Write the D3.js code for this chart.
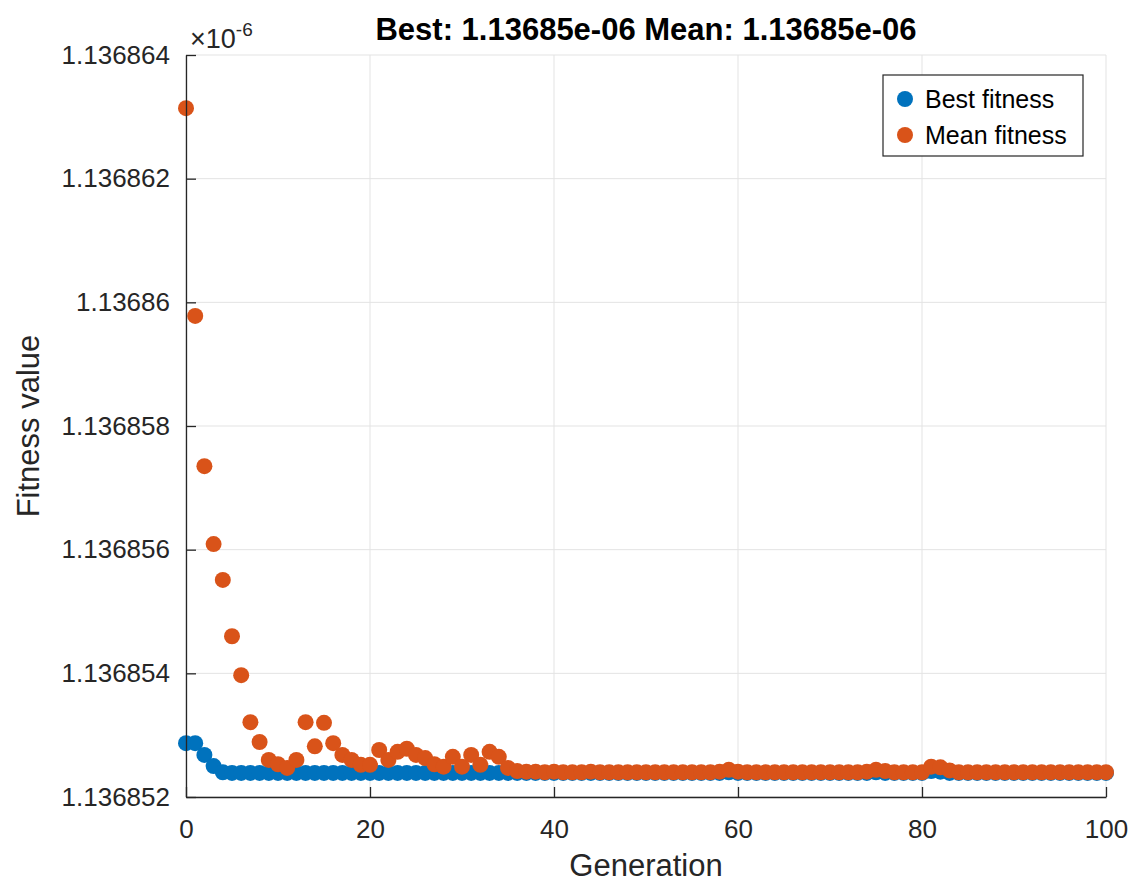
<!DOCTYPE html>
<html>
<head>
<meta charset="utf-8">
<script src="https://cdn.jsdelivr.net/npm/d3@7"></script>
<style>
  body { margin: 0; background: #fff; }
  text { font-family: "Liberation Sans", Arial, sans-serif; fill: #262626; }
</style>
</head>
<body>
<div id="chart"></div>
<script>
(function () {
    // values are in units of 1e-6
    var generations = d3.range(0, 101);

    var bestFitness = [
        1.13685287, 1.13685287, 1.13685268, 1.13685250, 1.13685240, 1.13685239, 1.13685239, 1.13685239, 1.13685239, 1.13685239,
        1.13685239, 1.13685239, 1.13685239, 1.13685239, 1.13685239, 1.13685239, 1.13685239, 1.13685239, 1.13685239, 1.13685239,
        1.13685239, 1.13685239, 1.13685239, 1.13685239, 1.13685239, 1.13685239, 1.13685239, 1.13685239, 1.13685239, 1.13685239,
        1.13685239, 1.13685239, 1.13685239, 1.13685239, 1.13685239, 1.13685239, 1.13685239, 1.13685239, 1.13685239, 1.13685239,
        1.13685239, 1.13685239, 1.13685239, 1.13685239, 1.13685239, 1.13685239, 1.13685239, 1.13685239, 1.13685239, 1.13685239,
        1.13685239, 1.13685239, 1.13685239, 1.13685239, 1.13685239, 1.13685239, 1.13685239, 1.13685239, 1.13685239, 1.13685240,
        1.13685239, 1.13685239, 1.13685239, 1.13685239, 1.13685239, 1.13685239, 1.13685239, 1.13685239, 1.13685239, 1.13685239,
        1.13685239, 1.13685239, 1.13685239, 1.13685239, 1.13685239, 1.13685240, 1.13685239, 1.13685239, 1.13685239, 1.13685239,
        1.13685239, 1.13685242, 1.13685241, 1.13685239, 1.13685239, 1.13685239, 1.13685239, 1.13685239, 1.13685239, 1.13685239,
        1.13685239, 1.13685239, 1.13685239, 1.13685239, 1.13685239, 1.13685239, 1.13685239, 1.13685239, 1.13685239, 1.13685239,
        1.13685239
    ];

    var meanFitness = [
        1.13686314, 1.13685978, 1.13685735, 1.13685609, 1.13685551, 1.13685460, 1.13685397, 1.13685321, 1.13685289, 1.13685260,
        1.13685253, 1.13685247, 1.13685260, 1.13685321, 1.13685282, 1.13685320, 1.13685287, 1.13685268, 1.13685260, 1.13685252,
        1.13685252, 1.13685276, 1.13685260, 1.13685273, 1.13685278, 1.13685268, 1.13685263, 1.13685253, 1.13685249, 1.13685265,
        1.13685249, 1.13685268, 1.13685252, 1.13685273, 1.13685265, 1.13685247, 1.13685242, 1.13685241, 1.13685241, 1.13685240,
        1.13685241, 1.13685240, 1.13685240, 1.13685240, 1.13685241, 1.13685240, 1.13685240, 1.13685240, 1.13685240, 1.13685240,
        1.13685240, 1.13685240, 1.13685240, 1.13685240, 1.13685240, 1.13685240, 1.13685240, 1.13685240, 1.13685241, 1.13685244,
        1.13685241, 1.13685240, 1.13685240, 1.13685240, 1.13685240, 1.13685240, 1.13685240, 1.13685240, 1.13685240, 1.13685240,
        1.13685240, 1.13685240, 1.13685240, 1.13685240, 1.13685241, 1.13685244, 1.13685242, 1.13685240, 1.13685240, 1.13685240,
        1.13685240, 1.13685249, 1.13685248, 1.13685243, 1.13685240, 1.13685240, 1.13685240, 1.13685240, 1.13685240, 1.13685240,
        1.13685240, 1.13685240, 1.13685240, 1.13685240, 1.13685240, 1.13685240, 1.13685240, 1.13685240, 1.13685240, 1.13685240,
        1.13685240
    ];

    var xTicks = [0, 20, 40, 60, 80, 100];
    var yTicks = [1.136852, 1.136854, 1.136856, 1.136858, 1.13686, 1.136862, 1.136864];
    var yTickLabels = ["1.136852", "1.136854", "1.136856", "1.136858", "1.13686", "1.136862", "1.136864"];
    var seriesNames = ["Best fitness", "Mean fitness"];
    var colors = ["#0072BD", "#D95319"];

    var width = 1132, height = 885;
    var margin = {left: 186, right: 26, top: 55, bottom: 88};

    var svg = d3.select("#chart").append("svg")
        .attr("width", width)
        .attr("height", height);

    var x = d3.scaleLinear().domain([0, 100]).range([margin.left, width - margin.right]);
    var y = d3.scaleLinear().domain([1.136852, 1.136864]).range([height - margin.bottom, margin.top]);

    // grid
    svg.append("g").selectAll("line.gx").data(xTicks).enter().append("line")
        .attr("x1", d => x(d)).attr("x2", d => x(d))
        .attr("y1", y.range()[0]).attr("y2", y.range()[1])
        .attr("stroke", "#e3e3e3").attr("stroke-width", 1);
    svg.append("g").selectAll("line.gy").data(yTicks).enter().append("line")
        .attr("x1", x.range()[0]).attr("x2", x.range()[1])
        .attr("y1", d => y(d)).attr("y2", d => y(d))
        .attr("stroke", "#e3e3e3").attr("stroke-width", 1);

    // points
    var series = [bestFitness, meanFitness];
    series.forEach(function (vals, si) {
        svg.append("g").selectAll("circle").data(vals).enter().append("circle")
            .attr("cx", (d, i) => x(generations[i]))
            .attr("cy", d => y(d))
            .attr("r", 8)
            .attr("fill", colors[si]);
    });

    // axes
    var xAxis = d3.axisBottom(x).tickValues(xTicks).tickSizeInner(-10).tickSizeOuter(0).tickPadding(23);
    var gx = svg.append("g").attr("transform", "translate(0," + y.range()[0] + ")").call(xAxis);
    var yAxis = d3.axisLeft(y).tickValues(yTicks).tickFormat((d, i) => yTickLabels[i])
        .tickSizeInner(-10).tickSizeOuter(0).tickPadding(16);
    var gy = svg.append("g").attr("transform", "translate(" + x.range()[0] + ",0)").call(yAxis);

    [gx, gy].forEach(function (g) {
        g.select(".domain").attr("stroke", "#262626").attr("stroke-width", 1.3);
        g.selectAll(".tick line").attr("stroke", "#262626").attr("stroke-width", 1.3);
        g.selectAll(".tick text").style("font-size", "26px").attr("fill", "#262626")
            .style("font-family", "'Liberation Sans', Arial, sans-serif");
    });

    // exponent
    var ex = svg.append("text").attr("x", 190).attr("y", 48).style("font-size", "27px");
    ex.append("tspan").text("\u00d710");
    ex.append("tspan").attr("dy", -12).style("font-size", "19px").text("-6");

    // title
    svg.append("text").attr("x", (x.range()[0] + x.range()[1]) / 2).attr("y", 40)
        .attr("text-anchor", "middle").style("font-size", "31px").style("font-weight", "bold")
        .style("fill", "#000")
        .text("Best: 1.13685e-06 Mean: 1.13685e-06");

    // axis labels
    svg.append("text").attr("x", (x.range()[0] + x.range()[1]) / 2).attr("y", 876)
        .attr("text-anchor", "middle").style("font-size", "31px").text("Generation");
    svg.append("text").attr("transform", "translate(39," + ((y.range()[0] + y.range()[1]) / 2) + ") rotate(-90)")
        .attr("text-anchor", "middle").style("font-size", "31px").text("Fitness value");

    // legend
    var lg = svg.append("g").attr("transform", "translate(883,75)");
    lg.append("rect").attr("width", 200).attr("height", 81)
        .attr("fill", "#fff").attr("stroke", "#262626").attr("stroke-width", 1.2);
    seriesNames.forEach(function (name, i) {
        lg.append("circle").attr("cx", 22).attr("cy", 24 + i * 36).attr("r", 8).attr("fill", colors[i]);
        lg.append("text").attr("x", 42).attr("y", 33 + i * 36).style("font-size", "25px")
            .style("fill", "#000").text(name);
    });
})();
</script>
</body>
</html>
